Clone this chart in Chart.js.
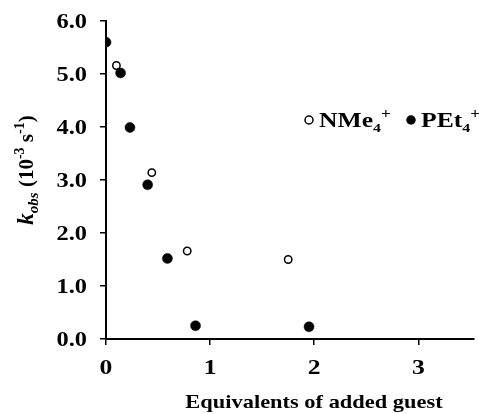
<!DOCTYPE html>
<html>
<head>
<meta charset="utf-8">
<script src="https://cdn.jsdelivr.net/npm/chart.js@4.4.1/dist/chart.umd.min.js"></script>
<style>
    html, body { margin: 0; padding: 0; background: #fff; }
</style>
</head>
<body>
<canvas id="kinChart" width="479" height="414"></canvas>
<script>
// data
const xTicks = [0, 1, 2, 3];
const yTicks = [0, 1, 2, 3, 4, 5, 6];
const nme4X = [0.10, 0.44, 0.78, 1.75];
const nme4Y = [5.16, 3.14, 1.66, 1.50];
const pet4X = [0.00, 0.14, 0.23, 0.40, 0.59, 0.86, 1.95];
const pet4Y = [5.60, 5.02, 3.99, 2.91, 1.52, 0.25, 0.23];

const FONT = '"Liberation Serif", "Times New Roman", serif';
// the source figure's lettering is a bit wider than plain Times
const SX = 1.22;

function toPoints(xs, ys) {
    return xs.map((x, i) => ({ x: x, y: ys[i] }));
}

function setFont(ctx, p) {
    ctx.font = (p.style || 'bold') + ' ' + p.size + 'px ' + FONT;
}

function richWidth(ctx, parts) {
    let w = 0;
    parts.forEach(p => { setFont(ctx, p); w += ctx.measureText(p.t).width; });
    return w;
}

// text pieces (normal / sub / sup), left to right, from local origin
function drawRich(ctx, parts, x, y) {
    parts.forEach(p => {
        setFont(ctx, p);
        ctx.fillText(p.t, x, y + (p.dy || 0));
        x += ctx.measureText(p.t).width;
    });
}

// draws at (x, y) with horizontal stretch; align: 'left' | 'center' | 'right'
function drawWide(ctx, parts, x, y, align, sx) {
    const w = richWidth(ctx, parts);
    let x0 = 0;
    if (align === 'center') x0 = -w / 2;
    if (align === 'right') x0 = -w;
    ctx.save();
    ctx.translate(x, y);
    ctx.scale(sx, 1);
    ctx.textAlign = 'left';
    drawRich(ctx, parts, x0, 0);
    ctx.restore();
}

const textPlugin = {
    id: 'textPlugin',
    afterDraw(chart) {
        const ctx = chart.ctx;
        const xs = chart.scales.x, ys = chart.scales.y;
        ctx.save();
        ctx.fillStyle = '#000';
        ctx.textBaseline = 'alphabetic';

        // tick labels placed from the scales
        yTicks.forEach(v => {
            drawWide(ctx, [{ t: v.toFixed(1), size: 20 }], 87, ys.getPixelForValue(v) + 7, 'right', SX);
        });
        xTicks.forEach(v => {
            drawWide(ctx, [{ t: String(v), size: 21 }], xs.getPixelForValue(v), 374, 'center', SX);
        });

        // x title
        drawWide(ctx, [{ t: 'Equivalents of added guest', size: 19 }], 314, 408, 'center', 1.18);

        // y title, rotated
        const yTitle = [
            { t: 'k', size: 23, style: 'italic bold' },
            { t: 'obs', size: 15, style: 'italic bold', dy: 5 },
            { t: ' (10', size: 21 },
            { t: '-3', size: 14, dy: -9 },
            { t: ' s', size: 21 },
            { t: '-1', size: 14, dy: -9 },
            { t: ')', size: 21 }
        ];
        const w = richWidth(ctx, yTitle);
        ctx.save();
        ctx.translate(33, 170);
        ctx.rotate(-Math.PI / 2);
        ctx.textAlign = 'left';
        drawRich(ctx, yTitle, -w / 2, 0);
        ctx.restore();

        // legend
        const items = [
            { ds: 1, cx: 309, parts: [{ t: 'NMe', size: 21 }, { t: '4', size: 13, dy: 5 }, { t: '+', size: 14, dy: -9 }] },
            { ds: 0, cx: 411, parts: [{ t: 'PEt', size: 21 }, { t: '4', size: 13, dy: 5 }, { t: '+', size: 14, dy: -9 }] }
        ];
        items.forEach(it => {
            const d = chart.data.datasets[it.ds];
            ctx.beginPath();
            ctx.arc(it.cx, 120, 4, 0, Math.PI * 2);
            ctx.fillStyle = d.backgroundColor;
            ctx.fill();
            ctx.lineWidth = 1.5;
            ctx.strokeStyle = '#000';
            ctx.stroke();
            ctx.fillStyle = '#000';
            drawWide(ctx, it.parts, it.cx + 10, 127, 'left', SX);
        });
        ctx.restore();
    }
};

new Chart(document.getElementById('kinChart'), {
    type: 'scatter',
    data: {
        datasets: [{
            label: 'PEt4+',
            data: toPoints(pet4X, pet4Y),
            backgroundColor: '#000',
            borderColor: '#000',
            borderWidth: 0.5,
            pointRadius: 5,
            pointHoverRadius: 5
        }, {
            label: 'NMe4+',
            data: toPoints(nme4X, nme4Y),
            backgroundColor: '#fff',
            borderColor: '#000',
            borderWidth: 1.5,
            pointRadius: 3.7,
            pointHoverRadius: 3.7
        }]
    },
    options: {
        responsive: false,
        animation: false,
        events: [],
        layout: { padding: { top: 21, right: 0, bottom: 0, left: 0 } },
        plugins: {
            legend: { display: false },
            tooltip: { enabled: false }
        },
        scales: {
            x: {
                type: 'linear',
                min: 0,
                max: 3.53,
                afterBuildTicks: s => { s.ticks = xTicks.map(v => ({ value: v })); },
                afterFit: s => { s.height = 75; },
                ticks: { display: false },
                grid: { drawOnChartArea: false, tickLength: 6, color: '#000', lineWidth: 1.5 },
                border: { color: '#000', width: 2 }
            },
            y: {
                min: 0,
                max: 6,
                afterBuildTicks: s => { s.ticks = yTicks.map(v => ({ value: v })); },
                afterFit: s => { s.width = 106; },
                ticks: { display: false },
                grid: { drawOnChartArea: false, tickLength: 6, color: '#000', lineWidth: 1.5 },
                border: { color: '#000', width: 2 }
            }
        }
    },
    plugins: [textPlugin]
});
</script>
</body>
</html>
